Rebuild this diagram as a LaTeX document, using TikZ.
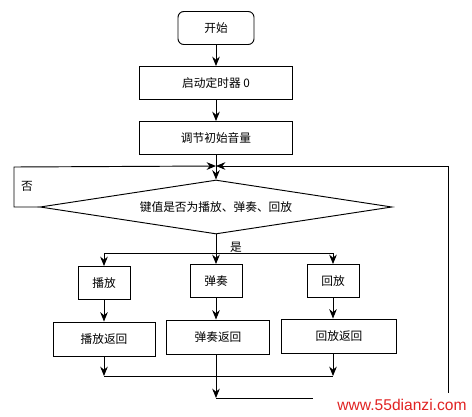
\documentclass[tikz,border=0pt]{standalone}
\usepackage{fontspec}
\newfontfamily\cjk{Noto Sans CJK SC}
\newfontfamily\wmfont{Liberation Sans}
\usetikzlibrary{shapes.geometric,arrows.meta}
\definecolor{wmred}{RGB}{225,35,35}

\begin{document}
\begin{tikzpicture}[
            x = 0.03cm, y = -0.03cm, % one unit = one pixel of the page
            > = {Stealth[length=8pt,width=6.5pt]}, % arrow head style
            thick, % line style
            font = \cjk\fontsize{10}{12}\selectfont,
            box/.style = {shape=rectangle, draw=black, minimum height=0.99cm}
        ]
\useasboundingbox (0,0) rectangle (472,416);

\node[box, rounded corners=5pt, minimum width=2.28cm] (start) at (216,28) {开始};
\node[box, minimum width=4.59cm] (timer) at (216,83) {启动定时器 0};
\node[box, minimum width=4.59cm] (vol) at (216,138) {调节初始音量};
\coordinate (J) at (216,166);
\node[shape=diamond, draw=black, aspect=6.5, inner sep=0pt,
      minimum width=10.56cm, minimum height=1.62cm] (dec) at (216,207) {键值是否为播放、弹奏、回放};
\node (no) at (27,186) {否};
\node (yes) at (236,247) {是};

\coordinate (br) at (216,253);
\node[box, minimum width=1.56cm] (play) at (104,283) {播放};
\node[box, minimum width=1.56cm] (tan) at (216,281) {弹奏};
\node[box, minimum width=1.56cm] (rec) at (333,281) {回放};

\node[box, minimum width=3.06cm, minimum height=1.02cm] (playret) at (104,339) {播放返回};
\node[box, minimum width=3.09cm, minimum height=1.02cm] (tanret) at (218,337) {弹奏返回};
\node[box, minimum width=3.45cm, minimum height=1.02cm] (recret) at (339,336) {回放返回};

\coordinate (m1) at (104,376);
\coordinate (m3) at (333,376);
\coordinate (bot) at (216,398);
\coordinate (loopL) at (14,167);
\coordinate (loopR) at (448,166);

 \path [->] (start) edge (timer);
 \path [->] (timer) edge (vol);
 \draw (vol) -- (J);
 \draw [->] (J) -- (dec.north);
 \draw [->] (dec.west) -| (loopL) -- (J);

 \draw (dec.south) -- (br);
 \draw [->] (br) -| (play);
 \draw [->] (br) -- (tan);
 \draw [->] (br) -| (rec);

 \path [->] (play) edge (playret);
 \path [->] (tan) edge (tan |- tanret.north);
 \path [->] (rec) edge (rec |- recret.north);

 \draw [->] (playret) -- (m1);
 \draw [->] (rec |- recret.south) -- (m3);
 \draw (m1) -- (m3);
 \draw [->] (tan |- tanret.south) -- (bot);
 \draw [->] (bot) -| (loopR) -- (J);

\node[fill=white, inner sep=0pt, minimum width=5.34cm, minimum height=0.72cm,
      font=\wmfont\fontsize{13.3}{16}\selectfont, text=wmred] (wm) at (402,405) {www.55dianzi.com};
\end{tikzpicture}
\end{document}
